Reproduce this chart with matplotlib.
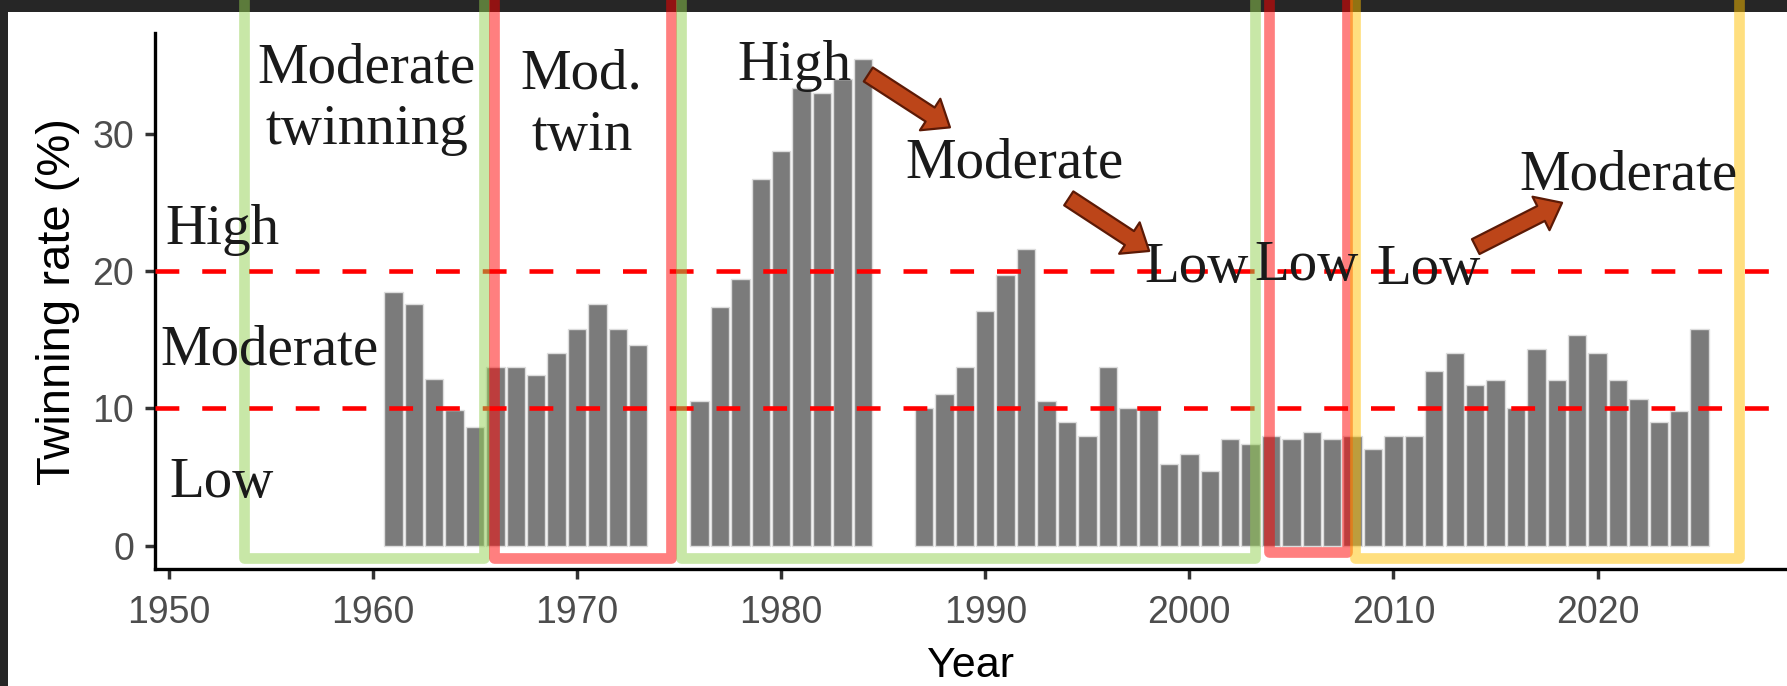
import numpy as np
import matplotlib
matplotlib.use('Agg')
import matplotlib.pyplot as plt
from matplotlib.patches import Rectangle, FancyArrowPatch
from matplotlib.lines import Line2D

plt.rcParams['font.family'] = ['Liberation Sans', 'DejaVu Sans']

# twinning rate per year (%), gaps in 1974-75 and 1985-86
years = list(range(1961, 1974)) + list(range(1976, 1985)) + list(range(1987, 2026))
rates = [18.5, 17.6, 12.1, 9.9, 8.6, 13.0, 13.0, 12.4, 14.0, 15.75, 17.6, 15.75, 14.6,
         10.5, 17.4, 19.4, 26.7, 28.75, 33.35, 32.95, 34.0, 35.45,
         10.0, 11.05, 12.97, 17.06, 19.7, 21.6, 10.5, 9.0, 8.0, 13.0, 10.0, 10.0, 5.95, 6.7,
         5.4, 7.73, 7.4, 8.0, 7.73, 8.3, 7.73, 8.0, 7.0, 8.0, 8.0, 12.7, 14.0, 11.66, 12.08,
         10.0, 14.28, 12.08, 15.3, 14.0, 12.08, 10.67, 9.0, 9.78, 15.75]

level_lines = [10, 20]

# highlighted periods
box_start = [1953.7, 1965.95, 1975.1, 2003.92, 2008.1]
box_end = [1965.43, 1974.58, 2003.22, 2007.73, 2026.93]
box_bottom = [-0.9, -0.9, -0.9, -0.5, -0.9]
box_color = ['#92D050', '#FF0000', '#92D050', '#FF0000', '#FFC000']

# text annotations
labels = ['Moderate', 'twinning', 'Mod.', 'twin', 'High', 'Moderate', 'Low',
          'High', 'Moderate', 'Low', 'Low', 'Low', 'Moderate']
label_x = [1959.7, 1959.73, 1970.2, 1970.27, 1952.61, 1954.95, 1952.6,
           1980.65, 1991.44, 2000.37, 2005.73, 2011.74, 2021.49]
label_y = [33.74, 29.27, 33.26, 28.79, 21.93, 13.15, 3.51,
           33.9, 26.78, 19.2, 19.37, 19.06, 25.92]

arrow_from = [(1984.27, 34.3), (1994.09, 25.28), (2014.03, 21.77)]
arrow_to = [(1988.27, 30.45), (1998.03, 21.45), (2018.26, 24.96)]

fig = plt.figure(figsize=(17.87, 6.86), dpi=100)
fig.patch.set_facecolor('#262626')
fig.patches.append(Rectangle((8.3 / 1787, 0), 1, 1 - 11.7 / 686, transform=fig.transFigure,
                             facecolor='white', edgecolor='none', zorder=-10))

ax = fig.add_axes([0.0866, 0.1706, 0.9134, 0.7809])
ax.set_facecolor('none')

ax.bar(years, rates, width=0.9, color='#7b7b7b', edgecolor='#dddddd', linewidth=1.0, zorder=2)

for lv in level_lines:
    ax.axhline(lv, color='#FF0000', lw=3.3, linestyle=(0, (5.2, 5.0)), zorder=3)

for x0, x1, y0, c in zip(box_start, box_end, box_bottom, box_color):
    ln = Line2D([x0, x0, x1, x1], [45, y0, y0, 45], color=c, alpha=0.5, lw=7.7,
                solid_joinstyle='round', solid_capstyle='butt', clip_on=False, zorder=4)
    ax.add_line(ln)

for t, x, y in zip(labels, label_x, label_y):
    ax.text(x, y, t, family='Liberation Serif', fontsize=41, color='#1a1a1a',
            ha='center', va='baseline', zorder=6)

for p0, p1 in zip(arrow_from, arrow_to):
    arr = FancyArrowPatch(p0, p1, arrowstyle='simple,head_length=17,head_width=27,tail_width=12',
                          mutation_scale=1, shrinkA=0, shrinkB=0,
                          facecolor='#BC4519', edgecolor='#5C1A06', lw=1.6, zorder=6)
    ax.add_patch(arr)

ax.set_xlim(1949.31, 2029.28)
ax.set_ylim(-1.70, 37.3)
ax.set_xticks([1950, 1960, 1970, 1980, 1990, 2000, 2010, 2020])
ax.set_yticks([0, 10, 20, 30])

for s in ['top', 'right']:
    ax.spines[s].set_visible(False)
for s in ['left', 'bottom']:
    ax.spines[s].set_linewidth(2.4)
    ax.spines[s].set_color('black')

ax.tick_params(axis='both', labelsize=27, labelcolor='#4D4D4D', color='#333333',
               width=2.5, length=7.5)
ax.tick_params(axis='x', pad=11)
ax.tick_params(axis='y', pad=7.5)

ax.set_xlabel('Year', fontsize=31, color='black')
ax.set_ylabel('Twinning rate (%)', fontsize=34, color='black')
ax.xaxis.set_label_coords(0.5, -0.1435)
ax.yaxis.set_label_coords(-0.0458, 0.5)

plt.savefig('out.png', dpi=100, facecolor=fig.get_facecolor())
